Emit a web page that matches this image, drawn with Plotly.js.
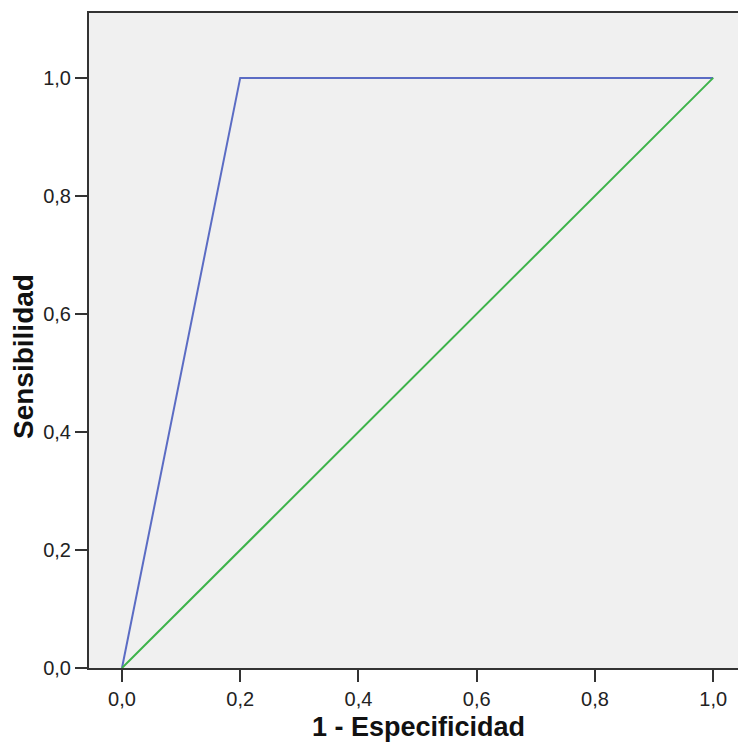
<!DOCTYPE html>
<html><head><meta charset="utf-8">
<script src="https://cdn.plot.ly/plotly-3.0.1.min.js"></script>
<style>html,body{margin:0;padding:0;background:#fff}</style>
</head><body><div id="chart" style="width:738px;height:746px"></div>
<script>
const rocX = [0, 0.2, 1];
const rocY = [0, 1, 1];
const refX = [0, 1];
const refY = [0, 1];
const tickVals = [0, 0.2, 0.4, 0.6, 0.8, 1.0];
const xTitle = '1 - Especificidad';
const yTitle = 'Sensibilidad';

const traces = [
  {x: rocX, y: rocY, mode: 'lines', line: {color: '#5b6cc4', width: 2}, hoverinfo: 'none'},
  {x: refX, y: refY, mode: 'lines', line: {color: '#3db34a', width: 2}, hoverinfo: 'none'}
];
const layout = {
  width: 738, height: 746,
  margin: {l: 89, r: 0, t: 13, b: 78},
  paper_bgcolor: '#ffffff', plot_bgcolor: '#f0f0f0',
  separators: ',.',
  showlegend: false,
  font: {family: 'Liberation Sans, Arial, sans-serif', color: '#222'},
  xaxis: {
    range: [-0.0558, 1.042], tickvals: tickVals, tickformat: '.1f',
    showgrid: false, zeroline: false, showline: true, linecolor: '#333', linewidth: 2,
    mirror: true, ticks: 'outside', ticklen: 12, tickwidth: 2, tickcolor: '#333',
    tickfont: {size: 20, color: '#222'}
  },
  yaxis: {
    range: [0, 1.11], tickvals: tickVals, tickformat: '.1f',
    showgrid: false, zeroline: false, showline: true, linecolor: '#333', linewidth: 2,
    mirror: false, ticks: 'outside', ticklen: 12, tickwidth: 2, tickcolor: '#333',
    tickfont: {size: 20, color: '#222'}
  },
  annotations: [
    {text: xTitle, xref: 'paper', yref: 'paper', x: 0.0, xanchor: 'center', y: 0, yanchor: 'middle',
     showarrow: false, font: {size: 27, color: '#111', weight: 'bold'}, xshift: 418 - 89, yshift: -(727 - 668)},
    {text: yTitle, xref: 'paper', yref: 'paper', x: 0, xanchor: 'center', y: 0, yanchor: 'middle', textangle: -90,
     showarrow: false, font: {size: 28, color: '#111', weight: 'bold'}, xshift: 23 - 89, yshift: 668 - 357}
  ]
};
Plotly.newPlot('chart', traces, layout, {displayModeBar: false, staticPlot: true});
</script></body></html>
